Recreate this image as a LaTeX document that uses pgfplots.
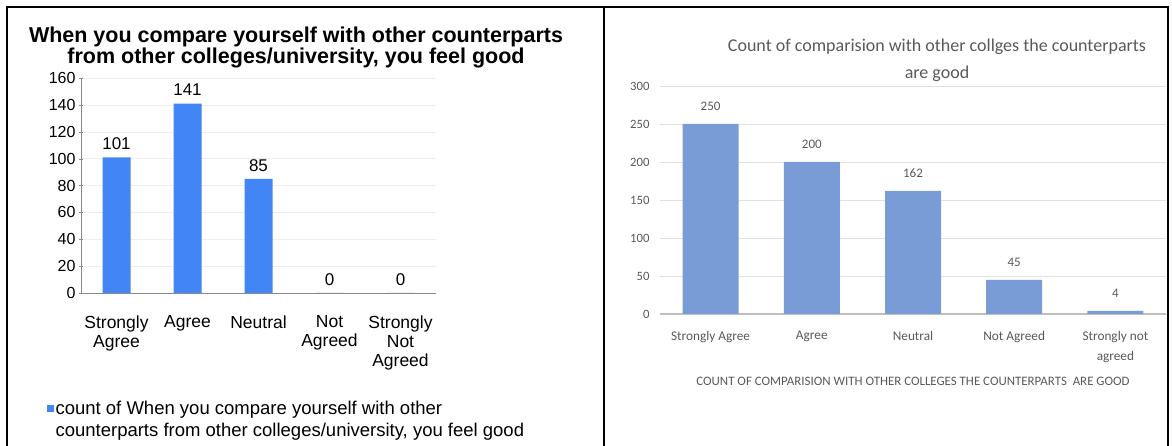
\documentclass[border=0pt]{standalone}
\usepackage{pgfplots}
\pgfplotsset{compat=1.18}
\usepackage{fontspec}
\setmainfont{Liberation Sans}
\newfontfamily\calibri{Carlito}
\definecolor{lblue}{RGB}{66,133,244}
\definecolor{rblue}{RGB}{122,156,214}
\definecolor{rgray}{RGB}{89,89,89}
\definecolor{lgrid}{RGB}{238,238,238}
\definecolor{rgrid}{RGB}{224,224,224}
\definecolor{laxis}{RGB}{137,137,137}
\definecolor{raxis}{RGB}{191,191,191}
\begin{document}
\begin{tikzpicture}
\useasboundingbox (0pt,0pt) rectangle (1172pt,446pt);
\draw[line width=2pt] (7pt,0pt) -- (7pt,439pt) -- (1168pt,439pt) -- (1168pt,0pt);
\draw[line width=2pt] (604pt,439pt) -- (604pt,0pt);

\node[align=center, font=\bfseries\fontsize{21.5}{21}\selectfont] at (296pt,398.5pt) {When you compare yourself with other counterparts\\from other colleges/university, you feel good};

\begin{axis}[
  at={(116.5pt,153pt)}, anchor=origin,
  scale only axis, width=355pt, height=215pt,
  xmin=-0.5, xmax=4.5, ymin=0, ymax=160,
  /pgf/number format/assume math mode=true,
  ytick={0,20,...,160},
  xtick={0,1,2,3,4},
  xticklabels={{Strongly\\Agree},Agree,Neutral,{Not\\Agreed},{Strongly\\Not\\Agreed}},
  xtick style={draw=none},
  minor xtick={-0.5,0.5,...,4.5},
  minor tick length=5pt, major tick length=4pt,
  tick align=outside,
  axis lines=left, axis line style={-, draw=laxis},
  tick style={draw=laxis},
  ymajorgrids, grid style={draw=lgrid},
  yticklabel style={font=\fontsize{16}{18}\selectfont},
  xticklabel style={font=\fontsize{17.5}{19}\selectfont, align=center, yshift=-15pt},
  ybar, bar width=28pt,
  nodes near coords,
  every node near coord/.append style={font=\fontsize{17}{19}\selectfont, black, yshift=4pt},
  legend style={at={(axis description cs:-0.106,-0.482)}, anchor=north west, draw=none, fill=none, font=\fontsize{18.5}{22}\selectfont, cells={align=left}},
  legend image code/.code={\fill[lblue] (0pt,7.5pt) rectangle (7pt,14.5pt);},
]
\addplot[fill=lblue, draw=none] coordinates {(0,101) (1,141) (2,85) (3,0) (4,0)};
\addlegendentry{count of When you compare yourself with other\\counterparts from other colleges/university, you feel good}
\end{axis}

\node[align=center, text=rgray, font=\calibri\fontsize{18}{27}\selectfont] at (937pt,386pt) {Count of comparision with other collges the counterparts\\are good};

\begin{axis}[
  at={(710.6pt,132pt)}, anchor=origin,
  scale only axis, width=506pt, height=228pt,
  xmin=-0.5, xmax=4.5, ymin=0, ymax=300,
  /pgf/number format/assume math mode=true,
  ytick={0,50,...,300},
  xtick={0,1,2,3,4},
  xticklabels={Strongly Agree,Agree,Neutral,Not Agreed,{Strongly not\\agreed}},
  tick style={draw=none},
  axis lines*=left,
  y axis line style={draw=none},
  x axis line style={-, draw=raxis, line width=1.5pt},
  ymajorgrids, grid style={draw=rgrid},
  yticklabel style={font=\calibri\fontsize{12.7}{14}\selectfont, text=rgray, xshift=-7pt},
  xticklabel style={font=\calibri\fontsize{13.3}{20}\selectfont, text=rgray, align=center, yshift=-9pt},
  xlabel={COUNT OF COMPARISION WITH OTHER COLLEGES THE COUNTERPARTS\ \ ARE GOOD},
  xlabel style={font=\calibri\fontsize{12.9}{14}\selectfont, text=rgray, yshift=-8pt},
  ybar, bar width=56pt,
  nodes near coords,
  every node near coord/.append style={font=\calibri\fontsize{13}{15}\selectfont, text=rgray, yshift=10pt},
]
\addplot[fill=rblue, draw=none] coordinates {(0,250) (1,200) (2,162) (3,45) (4,4)};
\end{axis}
\end{tikzpicture}
\end{document}
